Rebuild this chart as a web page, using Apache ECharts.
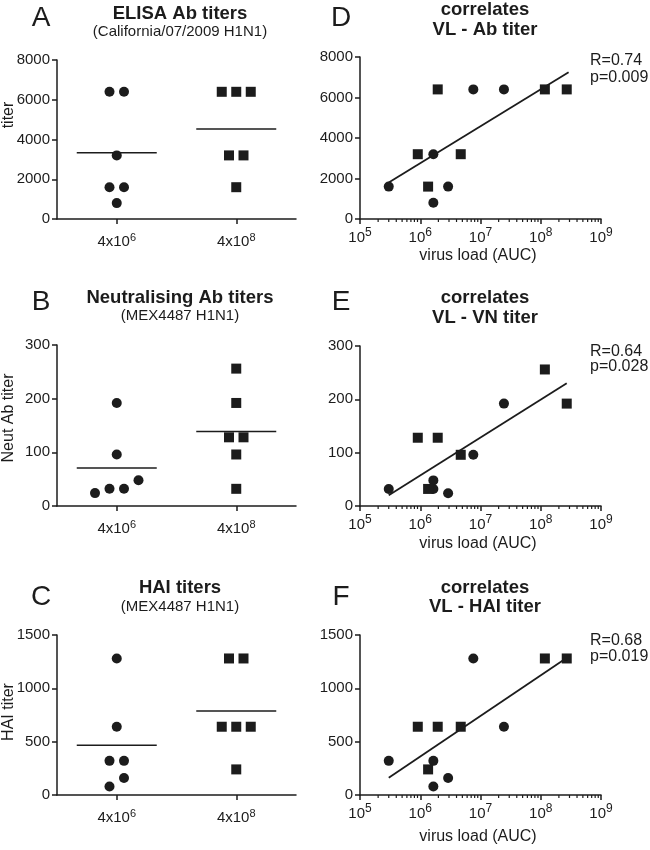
<!DOCTYPE html>
<html><head><meta charset="utf-8">
<script src="https://cdn.jsdelivr.net/npm/echarts@6/dist/echarts.min.js"></script>
<style>html,body{margin:0;padding:0;background:#fff}#c{width:650px;height:850px}</style>
</head><body><div id="c"></div>
<script>
// ---------------- data ----------------
const groupCats = ['4x10^6', '4x10^8'];
// virus load (AUC) per animal, low-dose group (circles) and high-dose group (squares)
const vlLow  = [3.0e5, 1.65e6, 1.65e6, 2.9e6, 7.6e6, 2.45e7];
const vlHigh = [9.1e5, 1.35e6, 1.95e6, 4.7e6, 1.17e8, 2.7e8];
// titers, same animal order as the virus load arrays
const elisaLow  = [1600, 3200, 800, 1600, 6400, 6400];
const elisaHigh = [3200, 1600, 6400, 3200, 6400, 6400];
const vnLow  = [32, 48, 32, 24, 96, 192];
const vnHigh = [128, 32, 128, 96, 256, 192];
const haiLow  = [320, 320, 80, 160, 1280, 640];
const haiHigh = [640, 240, 640, 640, 1280, 1280];
// regression lines (end points)
const fitElisa = [[3e5, 1800], [2.9e8, 7250]];
const fitVn    = [[3e5, 20], [2.7e8, 230]];
const fitHai   = [[3e5, 162], [2.6e8, 1280]];
// statistics text
const statsElisa = ['R=0.74', 'p=0.009'];
const statsVn    = ['R=0.64', 'p=0.028'];
const statsHai   = ['R=0.68', 'p=0.019'];
// axis ticks
const yMaxes = [8000, 300, 1500];
const ySteps = [2000, 100, 500];
const logMin = 1e5, logMax = 1e9;
// texts
const panelLetters = [['A', 'D'], ['B', 'E'], ['C', 'F']];
const leftTitles = ['ELISA Ab titers', 'Neutralising Ab titers', 'HAI titers'];
const leftSubtitles = ['(California/07/2009 H1N1)', '(MEX4487 H1N1)', '(MEX4487 H1N1)'];
const rightTitles = ['VL - Ab titer', 'VL - VN titer', 'VL - HAI titer'];
const yNames = ['titer', 'Neut Ab titer', 'HAI titer'];
const xNameRight = 'virus load (AUC)';

// ---------------- layout ----------------
const FONT = '"Liberation Sans", Arial, Helvetica, sans-serif';
const INK = '#1c1c1c';
const rows = [
  {lt: 60, rt: 57, b: 219},
  {lt: 345, rt: 346, b: 506},
  {lt: 635, rt: 635, b: 795}
];
const L = {left: 57, width: 239};
const R = {left: 360, width: 241};
const SYM = 10, SPACING = 14.5, HALF_MEAN = 40;

const panels = [
  {low: elisaLow, high: elisaHigh, fit: fitElisa, stats: statsElisa},
  {low: vnLow, high: vnHigh, fit: fitVn, stats: statsVn},
  {low: haiLow, high: haiHigh, fit: fitHai, stats: statsHai}
];

function swarm(values, center, pxPerY, unitPerPxX) {
  const idx = values.map((v, i) => i).sort((a, b) => values[a] - values[b]);
  const groups = []; let cur = [];
  idx.forEach(i => {
    if (cur.length && (values[i] - values[cur[cur.length - 1]]) * pxPerY >= SYM) { groups.push(cur); cur = []; }
    cur.push(i);
  });
  if (cur.length) groups.push(cur);
  const out = [];
  groups.forEach(g => g.forEach((i, k) => {
    out.push([center + (k - (g.length - 1) / 2) * SPACING * unitPerPxX, values[i]]);
  }));
  return out;
}
const mean = a => a.reduce((s, v) => s + v, 0) / a.length;

const axisLine = {show: true, lineStyle: {color: INK, width: 1.5}};
const axisTick = {show: true, length: 5, lineStyle: {color: INK, width: 1.5}};
const baseLabel = {color: INK, fontSize: 15, fontFamily: FONT};
const plainNum = v => String(v);

const grid = [], xAxis = [], yAxis = [], series = [], graphic = [];
function txt(s, x, y, size, extra) {
  const e = {type: 'text', x: x, y: y, silent: true,
    style: {text: s, fontSize: size, fontFamily: FONT, fill: INK, align: 'center', verticalAlign: 'middle', fontWeight: 'normal'}};
  if (extra) { if (extra.style) Object.assign(e.style, extra.style); if (extra.rotation) e.rotation = extra.rotation; }
  return e;
}
const bold = {style: {fontWeight: 'bold'}};
const leftAl = {style: {align: 'left'}};

const minorVals = [];
for (let k = Math.log10(logMin); k < Math.log10(logMax); k++) for (let m = 2; m <= 9; m++) minorVals.push([m * Math.pow(10, k), 0]);

rows.forEach((row, r) => {
  const p = panels[r];
  const gL = grid.length;
  grid.push({left: L.left, width: L.width, top: row.lt, height: row.b - row.lt});
  const gR = grid.length;
  grid.push({left: R.left, width: R.width, top: row.rt, height: row.b - row.rt});

  // left panel axes
  xAxis.push({type: 'category', gridIndex: gL, data: groupCats, boundaryGap: true,
    axisLine: axisLine, axisTick: Object.assign({alignWithLabel: true}, axisTick), splitLine: {show: false},
    axisLabel: Object.assign({}, baseLabel, {margin: 13, interval: 0,
      formatter: v => { const s = v.split('^'); return '{b|' + s[0] + '}{s|' + s[1] + '}'; },
      rich: {b: {fontSize: 15, fontFamily: FONT, color: INK, lineHeight: 20},
             s: {fontSize: 11, fontFamily: FONT, color: INK, lineHeight: 11, verticalAlign: 'top'}}})});
  const xVal = xAxis.length;
  xAxis.push({type: 'value', gridIndex: gL, min: 0, max: 2, show: false});
  const yL = yAxis.length;
  yAxis.push({type: 'value', gridIndex: gL, min: 0, max: yMaxes[r], interval: ySteps[r],
    axisLine: axisLine, axisTick: axisTick, splitLine: {show: false},
    axisLabel: Object.assign({}, baseLabel, {margin: 7, formatter: plainNum})});

  // right panel axes
  const xLog = xAxis.length;
  xAxis.push({type: 'log', logBase: 10, gridIndex: gR, min: logMin, max: logMax,
    axisLine: axisLine, axisTick: axisTick, splitLine: {show: false}, minorTick: {show: false},
    axisLabel: Object.assign({}, baseLabel, {margin: 8,
      formatter: v => '{b|10}{s|' + Math.round(Math.log10(v)) + '}',
      rich: {b: {fontSize: 15, fontFamily: FONT, color: INK, lineHeight: 22},
             s: {fontSize: 12, fontFamily: FONT, color: INK, lineHeight: 12, verticalAlign: 'top'}}})});
  const yR = yAxis.length;
  yAxis.push({type: 'value', gridIndex: gR, min: 0, max: yMaxes[r], interval: ySteps[r],
    axisLine: axisLine, axisTick: axisTick, splitLine: {show: false},
    axisLabel: Object.assign({}, baseLabel, {margin: 7, formatter: plainNum})});

  const pxPerY = (row.b - row.lt) / yMaxes[r];
  const unitPerPxX = 2 / L.width;
  const dot = {color: INK, opacity: 1};
  // dot plots
  series.push({type: 'scatter', xAxisIndex: xVal, yAxisIndex: yL, symbol: 'circle', symbolSize: SYM,
    itemStyle: dot, data: swarm(p.low, 0.5, pxPerY, unitPerPxX), z: 5, silent: true});
  series.push({type: 'scatter', xAxisIndex: xVal, yAxisIndex: yL, symbol: 'rect', symbolSize: SYM,
    itemStyle: dot, data: swarm(p.high, 1.5, pxPerY, unitPerPxX), z: 5, silent: true});
  [[p.low, 0.5], [p.high, 1.5]].forEach(([vals, c]) => {
    const m = mean(vals), h = HALF_MEAN * unitPerPxX;
    series.push({type: 'line', xAxisIndex: xVal, yAxisIndex: yL, symbol: 'none', silent: true,
      lineStyle: {color: INK, width: 1.5}, data: [[c - h, m], [c + h, m]], z: 4});
  });

  // correlation plots
  series.push({type: 'scatter', xAxisIndex: xLog, yAxisIndex: yR, symbol: 'circle', symbolSize: SYM,
    itemStyle: dot, data: vlLow.map((v, i) => [v, p.low[i]]), z: 5, silent: true});
  series.push({type: 'scatter', xAxisIndex: xLog, yAxisIndex: yR, symbol: 'rect', symbolSize: SYM,
    itemStyle: dot, data: vlHigh.map((v, i) => [v, p.high[i]]), z: 5, silent: true});
  series.push({type: 'line', xAxisIndex: xLog, yAxisIndex: yR, symbol: 'none', silent: true,
    lineStyle: {color: INK, width: 1.8}, data: p.fit, z: 4});
  series.push({type: 'custom', xAxisIndex: xLog, yAxisIndex: yR, silent: true, clip: false, z: 6,
    data: minorVals,
    renderItem: (params, api) => {
      const pt = api.coord([api.value(0), 0]);
      return {type: 'line', shape: {x1: pt[0], y1: pt[1], x2: pt[0], y2: pt[1] + 3},
        style: {stroke: INK, lineWidth: 1.2}};
    }});
});

// texts
const tY = [{letter: 18, t1: 14, t2: 32, r1: 10, r2: 30, s1: 61, s2: 78, xname: 256},
            {letter: 302, t1: 298, t2: 316, r1: 298, r2: 318, s1: 352, s2: 367, xname: 544},
            {letter: 597, t1: 588, t2: 607, r1: 588, r2: 607, s1: 641, s2: 657, xname: 837}];
const yNameY = [115, 418, 712];
rows.forEach((row, r) => {
  const t = tY[r];
  graphic.push(txt(panelLetters[r][0], 41, t.letter, 28));
  graphic.push(txt(leftTitles[r], 180, t.t1, 18.5, bold));
  graphic.push(txt(leftSubtitles[r], 180, t.t2, 15));
  graphic.push(txt(panelLetters[r][1], 341, t.letter, 28));
  graphic.push(txt('correlates', 485, t.r1, 18.5, bold));
  graphic.push(txt(rightTitles[r], 485, t.r2, 18.5, bold));
  graphic.push(txt(panels[r].stats[0], 590, t.s1, 16, leftAl));
  graphic.push(txt(panels[r].stats[1], 590, t.s2, 16, leftAl));
  graphic.push(txt(yNames[r], 9, yNameY[r], 16, {rotation: Math.PI / 2}));
  graphic.push(txt(xNameRight, 478, t.xname, 16));
});

const chart = echarts.init(document.getElementById('c'), null, {renderer: 'canvas'});
chart.setOption({animation: false, backgroundColor: '#fff', grid, xAxis, yAxis, series, graphic, tooltip: {show: false}});
</script>
</body></html>
